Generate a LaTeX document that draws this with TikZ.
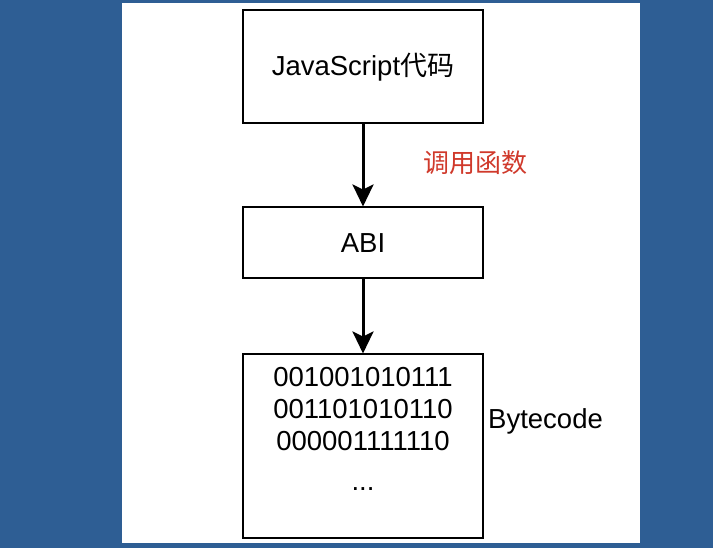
\documentclass[tikz,border=0pt]{standalone}
\usepackage{fontspec}
\setmainfont{Liberation Sans}
\newfontfamily\cjk{Noto Sans CJK SC}
\usetikzlibrary{arrows.meta}
\definecolor{bgblue}{HTML}{2E5E94}
\definecolor{lblred}{HTML}{D0392B}
\tikzset{
  box/.style={draw=black, line width=2pt, fill=white, minimum width=240pt, inner sep=0pt, font=\fontsize{27.5}{32}\selectfont},
  txt/.style={font=\fontsize{27.5}{32}\selectfont, inner sep=0pt},
  link/.style={line width=3pt, -{Stealth[length=22pt,width=21pt,inset=5pt]}},
}
\begin{document}
\begin{tikzpicture}[x=1pt,y=1pt]
\fill[bgblue] (0,0) rectangle (713,-548);
\fill[white] (122,-3) rectangle (640,-543);
\useasboundingbox (0,0) rectangle (713,-548);
\node[box, minimum height=113pt] (js) at (363,-67) {JavaScript{\cjk\fontsize{27}{32}\selectfont 代码}};
\node[box, minimum height=71pt] (abi) at (363,-243) {ABI};
\node[box, minimum height=183pt] (bc) at (363,-446) {};
\node[txt, align=center, anchor=north] (bits) at (363,-367) {001001010111\\001101010110\\000001111110\\[8pt]...};
\node[txt, anchor=west] (lbl) at (488,-421) {Bytecode};
\node[txt, font=\cjk\fontsize{26}{30}\selectfont, text=lblred, anchor=west] (call) at (423,-163) {调用函数};
\draw[link] (js) -- (abi);
\draw[link] (abi) -- (bc);
\end{tikzpicture}
\end{document}
